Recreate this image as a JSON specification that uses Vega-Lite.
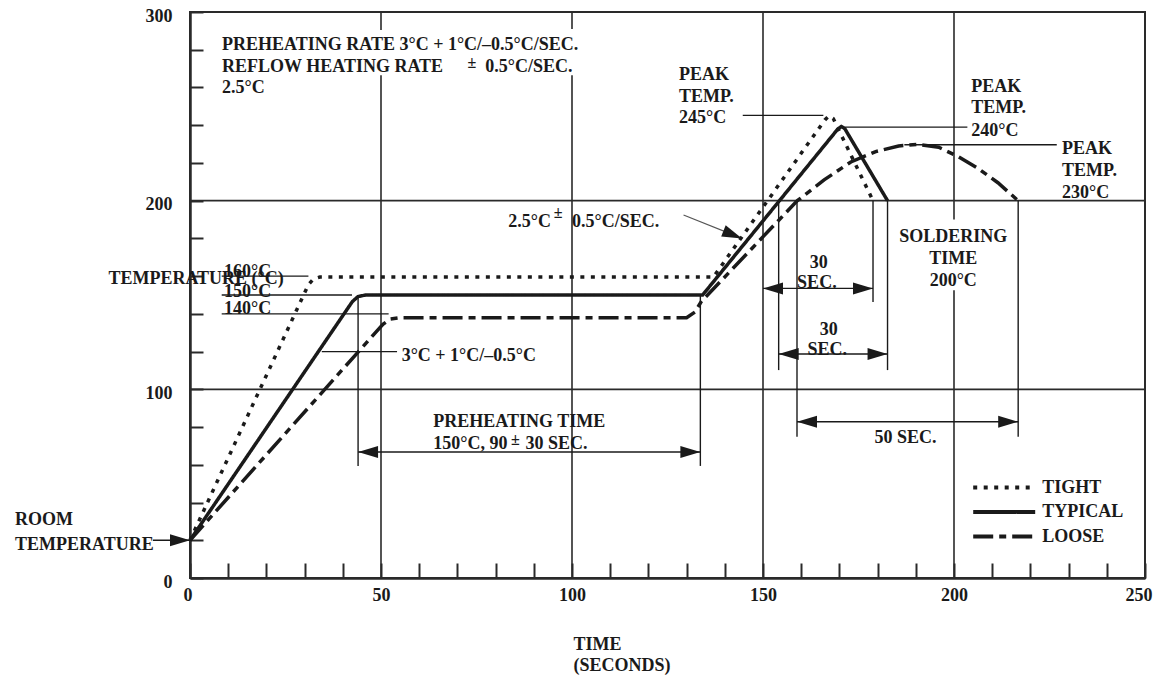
{
  "$schema": "https://vega.github.io/schema/vega-lite/v6.json",
  "width": 955,
  "height": 566,
  "autosize": {"type": "none"},
  "padding": {"left": 190, "top": 12, "right": 10, "bottom": 99},
  "background": "white",
  "config": {
    "view": {"stroke": "#2a2a2a", "strokeWidth": 2},
    "font": "Liberation Serif",
    "text": {"font": "Liberation Serif", "fontWeight": "bold", "fontSize": 18, "color": "#1a1a1a", "baseline": "middle"},
    "legend": {
      "orient": "none", "legendX": 801.7, "legendY": 463, "title": null,
      "symbolType": "M-3,0H3", "symbolSize": 427, "symbolStrokeWidth": 4,
      "symbolStrokeColor": "#1a1a1a", "symbolFillColor": "transparent", "labelFont": "Liberation Serif", "labelFontWeight": "bold",
      "labelFontSize": 18, "labelColor": "#1a1a1a", "labelOffset": 25.6, "rowPadding": 2.5, "padding": 0
    }
  },
  "datasets": {
    "curves": [
      {"profile": "TIGHT", "x": 0, "y": 20},
      {"profile": "TIGHT", "x": 31, "y": 155.5},
      {"profile": "TIGHT", "x": 32.3, "y": 158.5},
      {"profile": "TIGHT", "x": 34, "y": 159.5},
      {"profile": "TIGHT", "x": 137, "y": 159.5},
      {"profile": "TIGHT", "x": 166.2, "y": 242.8},
      {"profile": "TIGHT", "x": 167.3, "y": 245},
      {"profile": "TIGHT", "x": 168.4, "y": 243.5},
      {"profile": "TIGHT", "x": 178.8, "y": 200},
      {"profile": "TYPICAL", "x": 0, "y": 20},
      {"profile": "TYPICAL", "x": 42.5, "y": 146.5},
      {"profile": "TYPICAL", "x": 44, "y": 149.2},
      {"profile": "TYPICAL", "x": 46, "y": 150},
      {"profile": "TYPICAL", "x": 134.2, "y": 150},
      {"profile": "TYPICAL", "x": 169.6, "y": 238},
      {"profile": "TYPICAL", "x": 170.5, "y": 239.3},
      {"profile": "TYPICAL", "x": 171.4, "y": 238.2},
      {"profile": "TYPICAL", "x": 182.6, "y": 200},
      {"profile": "LOOSE", "x": 0, "y": 20},
      {"profile": "LOOSE", "x": 50.5, "y": 134.5},
      {"profile": "LOOSE", "x": 52.5, "y": 137.3},
      {"profile": "LOOSE", "x": 55, "y": 138},
      {"profile": "LOOSE", "x": 130, "y": 138},
      {"profile": "LOOSE", "x": 132.2, "y": 141},
      {"profile": "LOOSE", "x": 133.8, "y": 146.4},
      {"profile": "LOOSE", "x": 159, "y": 200},
      {"profile": "LOOSE", "x": 166, "y": 211},
      {"profile": "LOOSE", "x": 173, "y": 220.5},
      {"profile": "LOOSE", "x": 179.5, "y": 226},
      {"profile": "LOOSE", "x": 185.5, "y": 229},
      {"profile": "LOOSE", "x": 190.5, "y": 229.8},
      {"profile": "LOOSE", "x": 196, "y": 228.3},
      {"profile": "LOOSE", "x": 201, "y": 223.5},
      {"profile": "LOOSE", "x": 206, "y": 217.5},
      {"profile": "LOOSE", "x": 211.5, "y": 209.5},
      {"profile": "LOOSE", "x": 216.8, "y": 200}
    ],
    "grid": [
      {"x": 50, "y": 0, "x2": 50, "y2": 266.5},
      {"x": 50, "y": 290.5, "x2": 50, "y2": 300},
      {"x": 100, "y": 0, "x2": 100, "y2": 266.5},
      {"x": 100, "y": 291, "x2": 100, "y2": 300},
      {"x": 150, "y": 0, "x2": 150, "y2": 300},
      {"x": 200, "y": 0, "x2": 200, "y2": 152.5},
      {"x": 200, "y": 190, "x2": 200, "y2": 300},
      {"x": 0, "y": 100, "x2": 250, "y2": 100},
      {"x": 0, "y": 200, "x2": 250, "y2": 200}
    ],
    "leaders": [
      {"x": 8.3, "y": 160, "x2": 31, "y2": 160},
      {"x": 8.3, "y": 150, "x2": 42.4, "y2": 150},
      {"x": 8.3, "y": 140, "x2": 52, "y2": 140},
      {"x": 34.5, "y": 120, "x2": 54.2, "y2": 120},
      {"x": 144.7, "y": 245.2, "x2": 165.8, "y2": 245.2},
      {"x": 170.4, "y": 239, "x2": 203.5, "y2": 239},
      {"x": 187, "y": 229.6, "x2": 226.9, "y2": 229.6},
      {"x": 44.0, "y": 150, "x2": 44.0, "y2": 59.4},
      {"x": 133.6, "y": 150, "x2": 133.6, "y2": 59.4},
      {"x": 178.8, "y": 200, "x2": 178.8, "y2": 146.3},
      {"x": 154.1, "y": 200, "x2": 154.1, "y2": 110.2},
      {"x": 182.6, "y": 200, "x2": 182.6, "y2": 110.2},
      {"x": 158.9, "y": 200, "x2": 158.9, "y2": 74.9},
      {"x": 216.8, "y": 200, "x2": 216.8, "y2": 74.9},
      {"x": 44.0, "y": 66.8, "x2": 133.6, "y2": 66.8},
      {"x": 150, "y": 153.5, "x2": 178.8, "y2": 153.5},
      {"x": 154.1, "y": 118.7, "x2": 182.6, "y2": 118.7},
      {"x": 158.9, "y": 82.8, "x2": 216.8, "y2": 82.8},
      {"x": -9.7, "y": 20, "x2": 0, "y2": 20}
    ],
    "pointer": [
      {"x": 129.2, "y": 192.4, "x2": 144.5, "y2": 180}
    ],
    "heads": [
      {"x": 44.0, "y": 66.8, "dir": "L"},
      {"x": 133.6, "y": 66.8, "dir": "R"},
      {"x": 150, "y": 153.5, "dir": "L"},
      {"x": 178.8, "y": 153.5, "dir": "R"},
      {"x": 154.1, "y": 118.7, "dir": "L"},
      {"x": 182.6, "y": 118.7, "dir": "R"},
      {"x": 158.9, "y": 82.8, "dir": "L"},
      {"x": 216.8, "y": 82.8, "dir": "R"},
      {"x": 0, "y": 20, "dir": "R"},
      {"x": 144.5, "y": 180, "dir": "S"}
    ],
    "textsLeft": [
      {"x": 8.4, "y": 282.5, "text": "PREHEATING RATE 3°C + 1°C/–0.5°C/SEC."},
      {"x": 8.4, "y": 270.8, "text": "REFLOW HEATING RATE"},
      {"x": 77.3, "y": 270.8, "text": "0.5°C/SEC."},
      {"x": 8.4, "y": 259.7, "text": "2.5°C"},
      {"x": 8.9, "y": 162.3, "text": "160°C"},
      {"x": 8.9, "y": 151.7, "text": "150°C"},
      {"x": 8.9, "y": 142.4, "text": "140°C"},
      {"x": 55.4, "y": 117.8, "text": "3°C + 1°C/–0.5°C"},
      {"x": 83.3, "y": 188.9, "text": "2.5°C"},
      {"x": 100.0, "y": 188.9, "text": "0.5°C/SEC."},
      {"x": 63.7, "y": 70.9, "text": "150°C, 90"},
      {"x": 87.8, "y": 70.9, "text": "30 SEC."},
      {"x": 128.0, "y": 266.6, "text": "PEAK"},
      {"x": 128.0, "y": 255.0, "text": "TEMP."},
      {"x": 128.0, "y": 243.6, "text": "245°C"},
      {"x": 204.5, "y": 260.0, "text": "PEAK"},
      {"x": 204.5, "y": 248.9, "text": "TEMP."},
      {"x": 204.5, "y": 237.1, "text": "240°C"},
      {"x": 228.3, "y": 227.4, "text": "PEAK"},
      {"x": 228.3, "y": 215.9, "text": "TEMP."},
      {"x": 228.3, "y": 203.9, "text": "230°C"},
      {"x": -45.8, "y": 30.7, "text": "ROOM"},
      {"x": -45.8, "y": 17.5, "text": "TEMPERATURE"}
    ],
    "textsCenter": [
      {"x": 1.6, "y": 158.5, "text": "TEMPERATURE (°C)"},
      {"x": 86.2, "y": 82.9, "text": "PREHEATING TIME"},
      {"x": 164.6, "y": 166.7, "text": "30"},
      {"x": 164.1, "y": 156.2, "text": "SEC."},
      {"x": 167.2, "y": 131.4, "text": "30"},
      {"x": 166.8, "y": 120.8, "text": "SEC."},
      {"x": 187.3, "y": 74, "text": "50 SEC."},
      {"x": 199.8, "y": 180.5, "text": "SOLDERING"},
      {"x": 199.8, "y": 168.9, "text": "TIME"},
      {"x": 199.8, "y": 157.6, "text": "200°C"}
    ],
    "plusMinus": [
      {"x": 73.8, "y": 272.9, "text": "±"},
      {"x": 96.4, "y": 193.5, "text": "±"},
      {"x": 85.2, "y": 73.2, "text": "±"}
    ]
  },
  "encoding": {
    "x": {
      "field": "x", "type": "quantitative",
      "scale": {"domain": [0, 250], "nice": false, "zero": false},
      "axis": {
        "values": [0, 10, 20, 30, 40, 50, 60, 70, 80, 90, 100, 110, 120, 130, 140, 150, 160, 170, 180, 190, 200, 210, 220, 230, 240, 250],
        "labelExpr": "datum.value % 50 === 0 ? datum.label : ''",
        "labelOverlap": false, "labelFlush": true, "labelFlushOffset": 7, "grid": false,
        "tickSize": -15, "tickWidth": 2, "tickColor": "#2a2a2a",
        "domainColor": "#2a2a2a", "domainWidth": 2.5,
        "labelFont": "Liberation Serif", "labelFontWeight": "bold", "labelFontSize": 18, "labelColor": "#1a1a1a",
        "labelPadding": 23,
        "title": ["TIME", "(SECONDS)"],
        "titleFont": "Liberation Serif", "titleFontWeight": "bold", "titleFontSize": 18, "titleColor": "#1a1a1a",
        "titleAlign": "left", "titleAnchor": "start", "titleX": 383, "titleY": 71, "titleBaseline": "alphabetic", "titleLineHeight": 21.5
      }
    },
    "y": {
      "field": "y", "type": "quantitative",
      "scale": {"domain": [0, 300], "nice": false, "zero": false},
      "axis": {
        "values": [0, 20, 40, 60, 80, 100, 120, 140, 160, 180, 200, 220, 240, 260, 280, 300],
        "labelExpr": "datum.value % 100 === 0 ? datum.label : ''",
        "labelOverlap": false, "labelFlush": false, "grid": false,
        "tickSize": -13, "tickWidth": 2, "tickColor": "#2a2a2a",
        "domainColor": "#2a2a2a", "domainWidth": 2.5,
        "labelFont": "Liberation Serif", "labelFontWeight": "bold", "labelFontSize": 18, "labelColor": "#1a1a1a",
        "labelPadding": 31, "labelOffset": 4,
        "title": null
      }
    }
  },
  "layer": [
    {
      "data": {"name": "grid"},
      "mark": {"type": "rule", "stroke": "#2a2a2a", "strokeWidth": 1.6},
      "encoding": {"x2": {"field": "x2"}, "y2": {"field": "y2"}}
    },
    {
      "data": {"name": "leaders"},
      "mark": {"type": "rule", "stroke": "#1a1a1a", "strokeWidth": 1.4},
      "encoding": {"x2": {"field": "x2"}, "y2": {"field": "y2"}}
    },
    {
      "data": {"name": "pointer"},
      "mark": {"type": "rule", "stroke": "#555555", "strokeWidth": 1.2},
      "encoding": {"x2": {"field": "x2"}, "y2": {"field": "y2"}}
    },
    {
      "data": {"name": "heads"},
      "mark": {"type": "point", "filled": true, "fill": "#1a1a1a", "opacity": 1, "size": 1600, "strokeWidth": 0},
      "encoding": {
        "shape": {
          "field": "dir", "type": "nominal",
          "scale": {"domain": ["L", "R", "S"], "range": ["M0,0L1,-0.3L1,0.3Z", "M0,0L-1,-0.3L-1,0.3Z", "M0,0L-0.815,-0.653L-1.04,-0.097Z"]},
          "legend": null
        }
      }
    },
    {
      "data": {"name": "curves"},
      "mark": {"type": "line", "stroke": "#1a1a1a", "strokeWidth": 3.5},
      "encoding": {
        "strokeDash": {
          "field": "profile", "type": "nominal",
          "scale": {"domain": ["TIGHT", "TYPICAL", "LOOSE"], "range": [[4, 6.5], [1, 0], [20, 6, 7, 6]]}
        }
      }
    },
    {
      "data": {"name": "textsLeft"},
      "mark": {"type": "text", "align": "left"},
      "encoding": {"text": {"field": "text"}}
    },
    {
      "data": {"name": "textsCenter"},
      "mark": {"type": "text", "align": "center"},
      "encoding": {"text": {"field": "text"}}
    },
    {
      "data": {"name": "plusMinus"},
      "mark": {"type": "text", "align": "center", "fontSize": 16, "fontWeight": "bold"},
      "encoding": {"text": {"field": "text"}}
    }
  ]
}
